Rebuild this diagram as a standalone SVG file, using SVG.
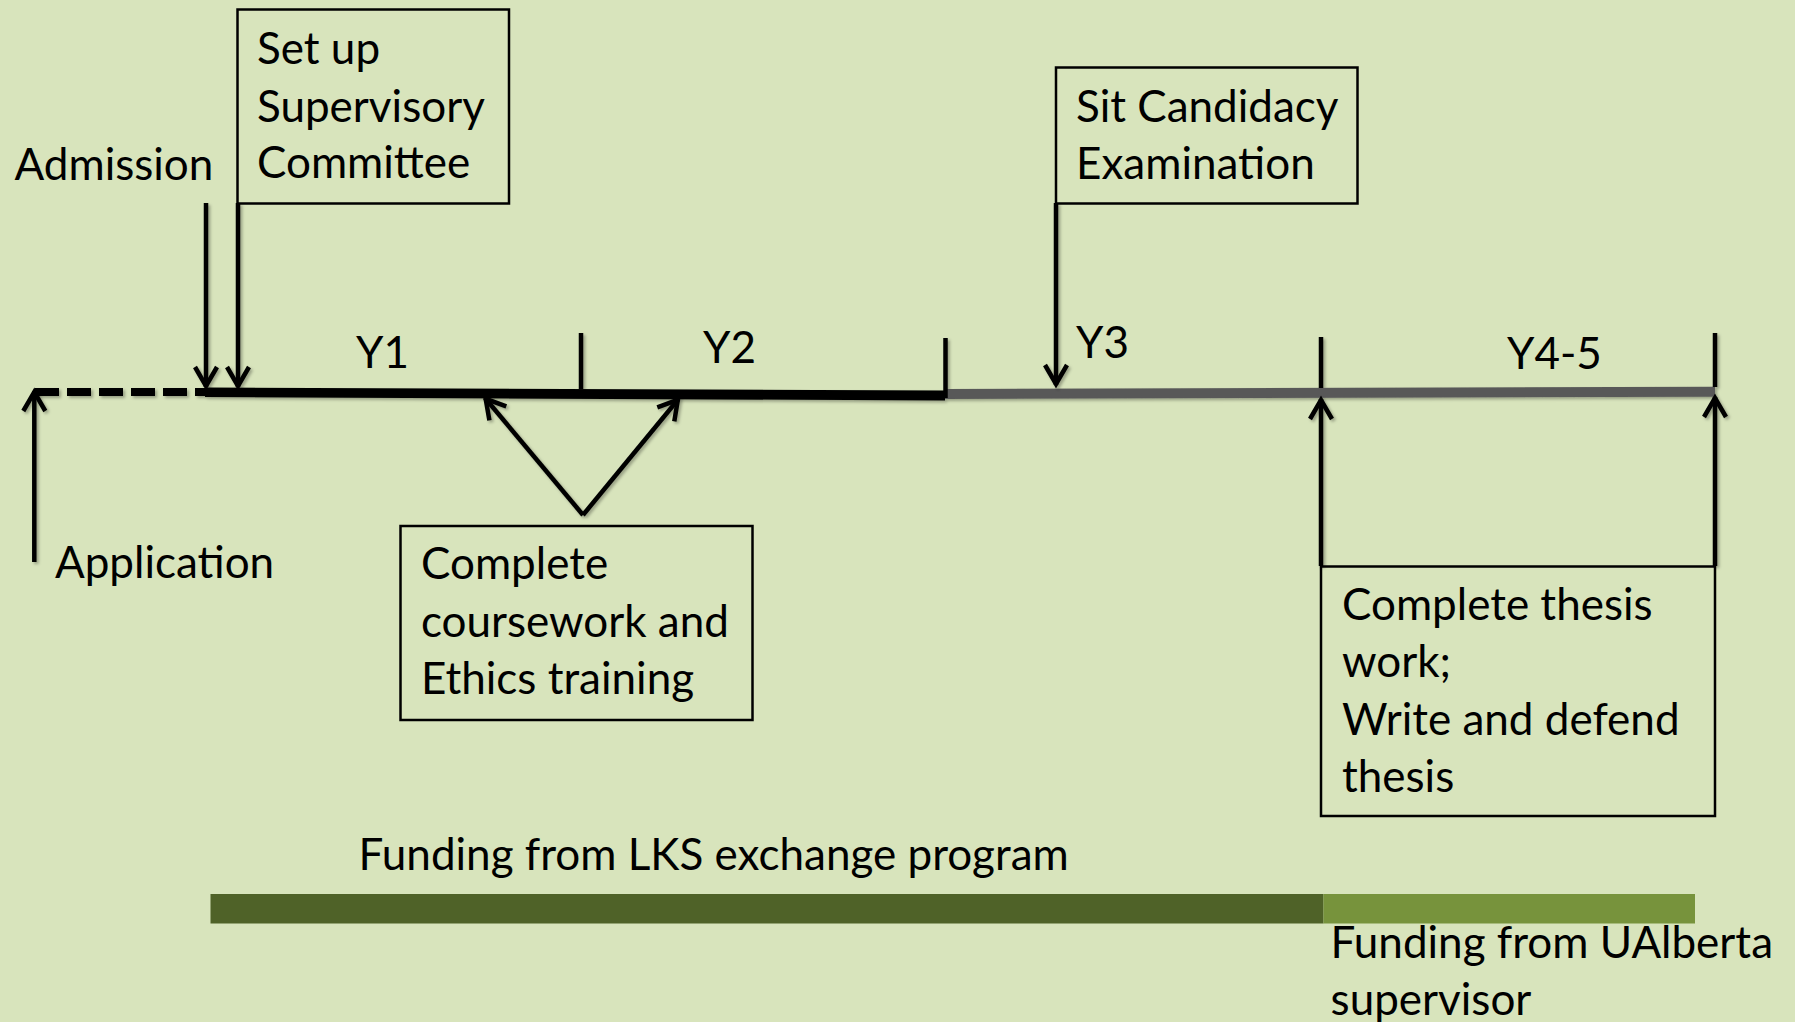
<svg xmlns="http://www.w3.org/2000/svg" width="1795" height="1022" viewBox="0 0 1795 1022">
<defs>
<style>
text{font-family:Lato,"Liberation Sans",sans-serif;font-size:44px;fill:#000}
.box{fill:none;stroke:#000;stroke-width:2.5}
.arr{fill:none;stroke:#000;stroke-width:4.5}
.tick{stroke:#000;stroke-width:4.5}
</style>
<filter id="sh" x="-20%" y="-20%" width="140%" height="140%">
<feDropShadow dx="2" dy="2" stdDeviation="1.8" flood-color="#000" flood-opacity="0.3"/>
</filter>
<marker id="ah" viewBox="-24 -14 30 28" refX="1" refY="0" markerWidth="30" markerHeight="28" markerUnits="userSpaceOnUse" orient="auto">
<path d="M-19,-11 L0,0 L-19,11" fill="none" stroke="#000" stroke-width="4.5"/>
</marker>
</defs>
<rect width="1795" height="1022" fill="#D8E4BC"/>
<g id="timeline" filter="url(#sh)">
<line x1="35" y1="392" x2="205" y2="392" stroke="#000" stroke-width="8" stroke-dasharray="24 8"/>
<path d="M205,387.5 L945,390.5 L945,400.5 L205,397 Z" fill="#000"/>
<path d="M945,389 L1715,386.7 L1715,396.7 L945,399 Z" fill="#595959"/>
<line class="tick" x1="581" y1="333" x2="581" y2="389"/>
<line class="tick" x1="945.5" y1="338" x2="945.5" y2="398"/>
<line class="tick" x1="1321" y1="337" x2="1321" y2="388"/>
<line class="tick" x1="1715" y1="333" x2="1715" y2="387"/>
</g>
<g id="year-labels">
<text x="356" y="368">Y1</text>
<text x="703" y="363">Y2</text>
<text x="1076" y="358">Y3</text>
<text x="1507" y="369">Y4-5</text>
</g>
<g id="admission"><text x="14.5" y="180">Admission</text></g>
<g id="application"><text x="55" y="578">Application</text></g>
<g id="supervisory">
<rect class="box" x="237.5" y="9.5" width="271.5" height="194"/>
<text x="257" y="64">Set up</text>
<text x="257" y="121.7">Supervisory</text>
<text x="257" y="178.3">Committee</text>
</g>
<g id="candidacy">
<rect class="box" x="1056" y="67.5" width="301.5" height="136"/>
<text x="1076" y="121.7">Sit Candidacy</text>
<text x="1076" y="179.3">Examination</text>
</g>
<g id="coursework">
<rect class="box" x="400.5" y="526" width="352" height="194"/>
<text x="421" y="579">Complete</text>
<text x="421" y="636.7">coursework and</text>
<text x="421" y="694">Ethics training</text>
</g>
<g id="thesis">
<rect class="box" x="1321" y="566.5" width="394" height="249.5"/>
<text x="1342" y="620">Complete thesis</text>
<text x="1342" y="676.7">work;</text>
<text x="1342" y="735">Write and defend</text>
<text x="1342" y="792.3">thesis</text>
</g>
<g id="funding">
<rect x="210.5" y="894" width="1113" height="29.5" fill="#4F6228"/>
<rect x="1323.5" y="894" width="371.5" height="29.5" fill="#77933C"/>
<text x="358.6" y="870">Funding from LKS exchange program</text>
<text x="1330.6" y="958.3">Funding from UAlberta</text>
<text x="1330.6" y="1015">supervisor</text>
</g>
<g id="connectors" filter="url(#sh)">
<line class="arr" x1="206" y1="203" x2="206" y2="387" marker-end="url(#ah)"/>
<line class="arr" x1="238" y1="203" x2="238" y2="387" marker-end="url(#ah)"/>
<line class="arr" x1="1056" y1="203" x2="1056" y2="385" marker-end="url(#ah)"/>
<line class="arr" x1="34.3" y1="562" x2="34.3" y2="391" marker-end="url(#ah)"/>
<line class="arr" x1="583" y1="515" x2="485" y2="398" marker-end="url(#ah)"/>
<line class="arr" x1="583" y1="515" x2="678.5" y2="399" marker-end="url(#ah)"/>
<line class="arr" x1="1321" y1="566" x2="1321" y2="399" marker-end="url(#ah)"/>
<line class="arr" x1="1715" y1="566" x2="1715" y2="397" marker-end="url(#ah)"/>
</g>
</svg>
